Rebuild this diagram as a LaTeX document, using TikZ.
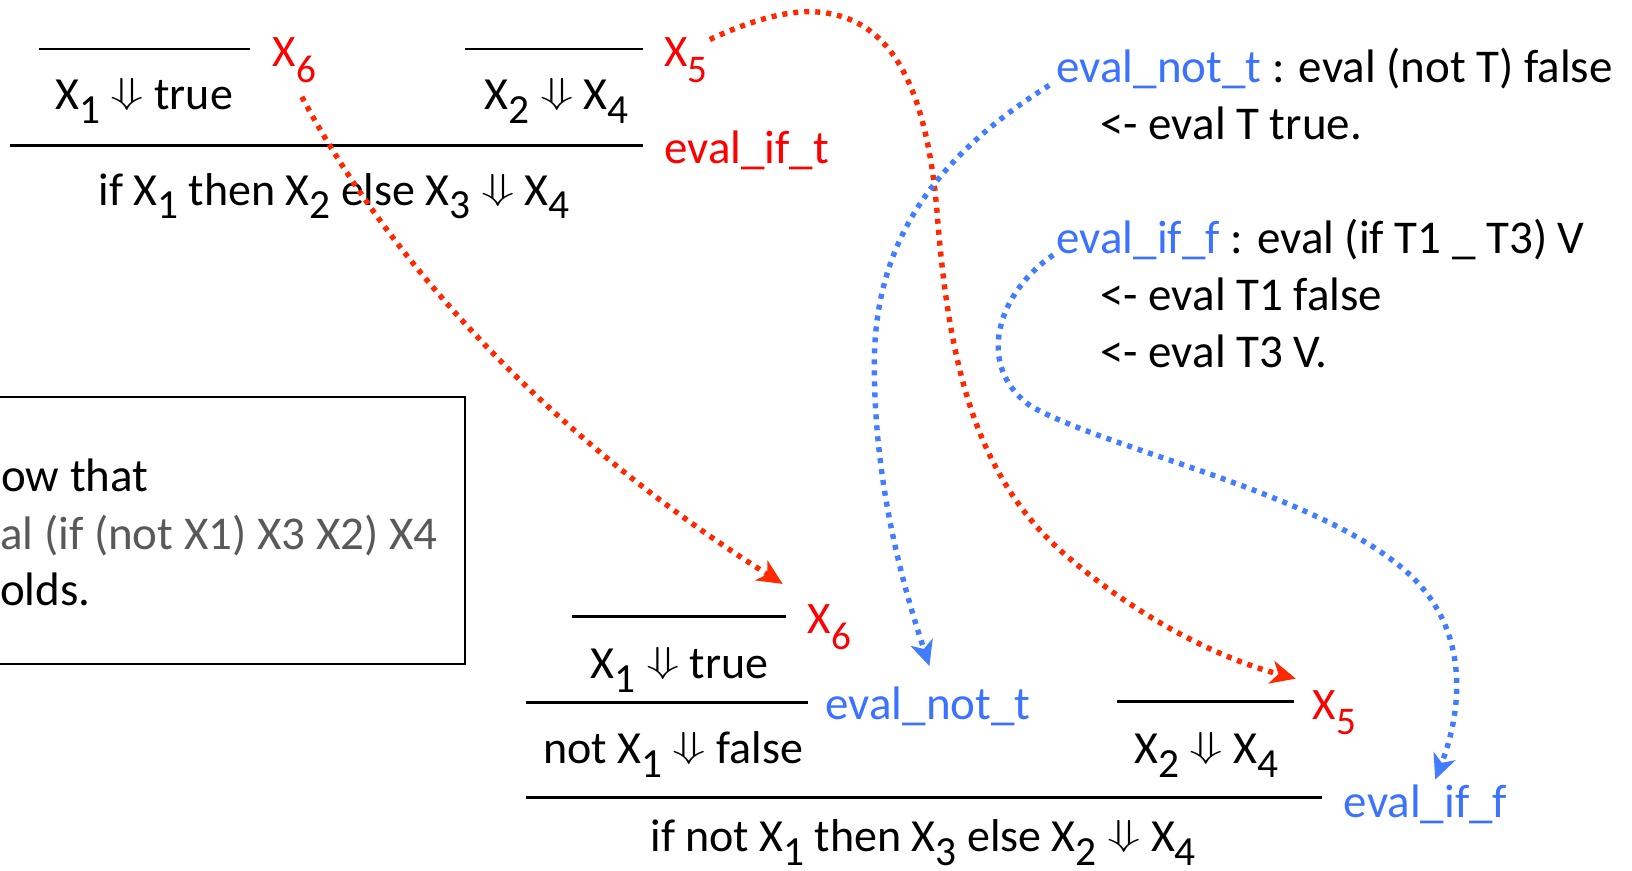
\documentclass[tikz,border=0pt]{standalone}
\usepackage{fontspec}
\usepackage{graphicx}
\setmainfont{Carlito}
\usetikzlibrary{arrows.meta}
\definecolor{lblred}{RGB}{255,0,0}
\definecolor{arrred}{RGB}{255,40,0}
\definecolor{lblblue}{RGB}{59,114,255}
\definecolor{arrblue}{RGB}{66,124,255}
\definecolor{boxgray}{RGB}{89,89,89}
\newcommand\lo[1]{\raisebox{-0.3em}{\scalebox{0.9}{#1}}}
\newcommand\lbsub[1]{\raisebox{-0.35em}{\scalebox{0.87}{#1}}}
\newcommand\dar{\raisebox{6pt}{\scalebox{2.2}[1.45]{$\Downarrow$}}}
\begin{document}
\begin{tikzpicture}[x=1.0408pt,y=-1.0408pt,
  formula/.style={font=\fontsize{46}{54}\selectfont, inner sep=0pt, anchor=base},
  xlbl/.style={font=\fontsize{45}{52}\selectfont, text=lblred, inner sep=0pt, anchor=base west},
  rulelbl/.style={font=\fontsize{47}{56}\selectfont, inner sep=0pt, anchor=base west},
  note/.style={font=\fontsize{47}{56}\selectfont, inner sep=0pt, anchor=base west},
  rulebar/.style={line width=2.6pt},
  redlink/.style={draw=arrred, line width=5.4pt, dash pattern=on 5pt off 6pt,
     -{Stealth[length=25pt,width=23pt,inset=7pt,fill=arrred]}},
  bluelink/.style={draw=arrblue, line width=5.4pt, dash pattern=on 5pt off 6pt,
     -{Stealth[length=25pt,width=23pt,inset=7pt,fill=arrblue]}}]
\useasboundingbox (0,0) rectangle (1568,836);

% top proof tree
\draw[rulebar] (37,47) -- (240,47);
\node[xlbl] (x6a) at (262,64) {X\lbsub{6}};
\node[formula] (f1) at (138.5,105) {X\lo{1} \dar{} true};
\draw[rulebar] (447,47) -- (618,47);
\node[xlbl] (x5a) at (638,64) {X\lbsub{5}};
\node[formula] (f2) at (535,105) {X\lo{2} \dar{} X\lo{4}};
\draw[rulebar] (10,140) -- (618,140);
\node[rulelbl, text=lblred] (evift) at (638,157) {eval\_if\_t};
\node[formula] (f3) at (321,197) {if X\lo{1} then X\lo{2} else X\lo{3} \dar{} X\lo{4}};

% rule definitions
\node[note] (n1) at (1015,79) {{\color{lblblue}eval\_not\_t} : eval (not T) false};
\node[note] (n2) at (1057,134.5) {<- eval T true.};
\node[note] (n3) at (1015,244) {{\color{lblblue}eval\_if\_f} : eval (if T1 \_ T3) V};
\node[note] (n4) at (1057,298) {<- eval T1 false};
\node[note] (n5) at (1057,353) {<- eval T3 V.};

% goal box (its left part lies outside the picture)
\draw[line width=2pt] (-10,381) rectangle (447,638);
\node[note] (s1) at (1,472.4) {ow that};
\node[note, text=boxgray] (s2) at (0,528.4) {al (if (not X1) X3 X2) X4};
\node[note] (s3) at (0,581.3) {olds.};

% bottom proof tree
\draw[rulebar] (550,592.5) -- (755,592.5);
\node[xlbl] (x6b) at (776,609) {X\lbsub{6}};
\node[formula] (g1) at (653,652) {X\lo{1} \dar{} true};
\draw[rulebar] (505,674.7) -- (776,674.7);
\node[rulelbl, text=lblblue] (evnt) at (793,691) {eval\_not\_t};
\node[formula] (g2) at (647,734) {not X\lo{1} \dar{} false};
\draw[rulebar] (1073,674.2) -- (1243,674.2);
\node[xlbl] (x5b) at (1261,691) {X\lbsub{5}};
\node[formula] (g3) at (1159,734) {X\lo{2} \dar{} X\lo{4}};
\draw[rulebar] (505,766) -- (1270,766);
\node[rulelbl, text=lblblue] (eviff) at (1291,785) {eval\_if\_f};
\node[formula] (g4) at (887,818) {if not X\lo{1} then X\lo{3} else X\lo{2} \dar{} X\lo{4}};

% connector end points
\coordinate (r1s) at (290,93);
\coordinate (r1e) at (752,561);
\coordinate (r2s) at (682,38);
\coordinate (r2e) at (1245,652);
\coordinate (b1s) at (1008,82);
\coordinate (b1e) at (893,640);
\coordinate (b2s) at (1012,245);
\coordinate (b2e) at (1379,749);

\draw[redlink] (r1s) .. controls (390,280) and (560,440) .. (r1e);
\draw[redlink] (r2s) .. controls (720,20) and (760,8) .. (790,12)
   .. controls (860,20) and (890,90) .. (900,200)
   .. controls (910,330) and (930,450) .. (1020,530)
   .. controls (1100,600) and (1180,635) .. (r2e);
\draw[bluelink] (b1s) .. controls (900,150) and (840,230) .. (840,350)
   .. controls (840,470) and (870,570) .. (b1e);
\draw[bluelink] (b2s) .. controls (960,280) and (935,350) .. (990,390)
   .. controls (1060,430) and (1250,470) .. (1340,540)
   .. controls (1420,600) and (1402,690) .. (b2e);
\end{tikzpicture}
\end{document}
